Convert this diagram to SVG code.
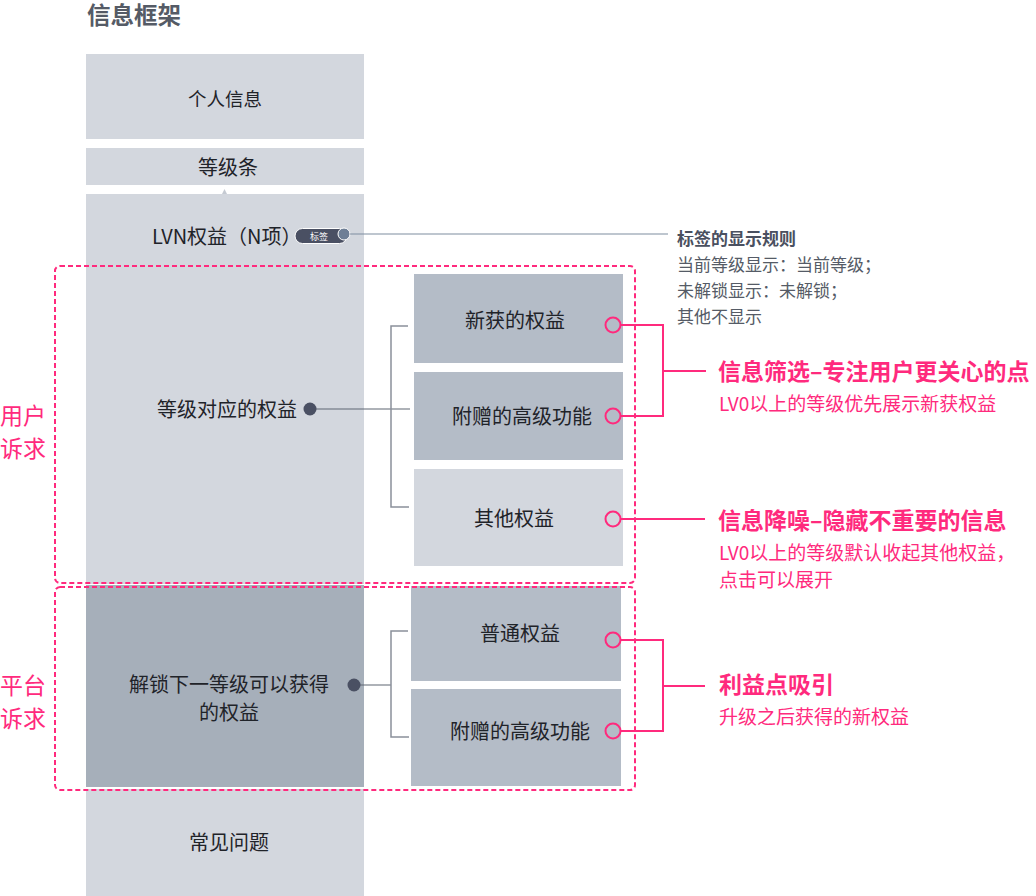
<svg xmlns="http://www.w3.org/2000/svg" width="1036" height="896" viewBox="0 0 1036 896">
<style>
text{font-family:"Noto Sans CJK SC","Noto Sans",sans-serif;}
.t{font-size:20px;fill:#1f2329;text-anchor:middle;}
.light{fill:#d3d7de;}
.mid{fill:#b4bcc7;}
.dark{fill:#a6afba;}
.pk{fill:none;stroke:#ff2a7d;stroke-width:2;}
.pkc{fill:none;stroke:#ff2a7d;stroke-width:2;}
.dash{fill:none;stroke:#ff2a7d;stroke-width:2;stroke-dasharray:5 3;}
.br{fill:none;stroke:#8a909a;stroke-width:1.5;}
.ln{stroke:#5f6672;stroke-width:1.2;fill:none;}
.h{font-size:23px;font-weight:bold;fill:#ff2a7d;}
.s{font-size:19px;fill:#ff2a7d;}
.side{font-size:23px;fill:#ff2a7d;}
.g{font-size:17px;fill:#555b66;}
</style>
<rect width="1036" height="896" fill="#ffffff"/>
<text x="87" y="24" style="font-size:23.5px;font-weight:bold;fill:#555b66;">信息框架</text>

<g id="n-personal"><rect class="light" x="86" y="54" width="278" height="85"/><text class="t" x="225" y="106" style="font-size:18.5px">个人信息</text></g>
<g id="n-levelbar"><rect class="light" x="86" y="148" width="278" height="37"/><text class="t" x="228" y="175">等级条</text><path d="M222 194 L224.5 189 L227 194 Z" fill="#c5cad2"/></g>
<g id="n-lvn"><rect class="light" x="86" y="194" width="278" height="390"/>
<text x="152" y="244" style="font-size:20px;fill:#1f2329;">LVN权益（N项）</text>
<rect x="295" y="228.5" width="52" height="15" rx="7.5" fill="#4a5063" stroke="#ffffff" stroke-width="1"/>
<text x="319" y="239.5" style="font-size:9px;fill:#ffffff;text-anchor:middle;">标签</text>
<circle cx="344" cy="234" r="6" fill="#6e7f96" stroke="#ffffff" stroke-width="1"/>
<text class="t" x="227" y="417">等级对应的权益</text>
</g>
<g id="n-unlock"><rect class="dark" x="86" y="585" width="278" height="202"/><text class="t" x="229" y="692">解锁下一等级可以获得</text><text class="t" x="229" y="720">的权益</text></g>
<g id="n-faq"><rect class="light" x="86" y="789" width="278" height="107"/><text class="t" x="229" y="850">常见问题</text></g>

<g id="n-new"><rect class="mid" x="414" y="274" width="209" height="89"/><text class="t" x="515" y="328">新获的权益</text></g>
<g id="n-gift1"><rect class="mid" x="414" y="372" width="209" height="88"/><text class="t" x="522" y="424">附赠的高级功能</text></g>
<g id="n-other"><rect class="light" x="414" y="469" width="209" height="97"/><text class="t" x="514" y="526">其他权益</text></g>
<g id="n-normal"><rect class="mid" x="411" y="586" width="210" height="95"/><text class="t" x="520" y="641">普通权益</text></g>
<g id="n-gift2"><rect class="mid" x="411" y="689" width="210" height="97"/><text class="t" x="520" y="739">附赠的高级功能</text></g>

<g id="regions">
<rect class="dash" x="55" y="266" width="580" height="317" rx="5"/>
<rect class="dash" x="55" y="587" width="580" height="203" rx="5"/>
<text class="side" x="0" y="424">用户</text><text class="side" x="0" y="457">诉求</text>
<text class="side" x="0" y="694">平台</text><text class="side" x="0" y="727">诉求</text>
</g>

<g id="connectors">
<line x1="350" y1="234" x2="668" y2="234" stroke="#7f8ea0" stroke-width="1.2"/>
<line class="ln" x1="310" y1="409" x2="410" y2="409"/>
<circle cx="310" cy="409" r="6.5" fill="#4a5063"/>
<path class="br" d="M408 326 H391 V507 H409"/>
<line class="ln" x1="354" y1="685" x2="391" y2="685"/>
<circle cx="354" cy="685" r="6.5" fill="#4a5063"/>
<path class="br" d="M408 631 H391 V737 H409"/>

<circle class="pkc" cx="613" cy="325" r="7.5"/>
<circle class="pkc" cx="613" cy="416" r="7.5"/>
<circle class="pkc" cx="613" cy="519" r="7.5"/>
<circle class="pkc" cx="613" cy="640" r="7.5"/>
<circle class="pkc" cx="613" cy="731" r="7.5"/>
<path class="pk" d="M620.5 325 H663 V416 H620.5 M663 371 H706"/>
<path class="pk" d="M620.5 519 H705"/>
<path class="pk" d="M620.5 640 H663 V731 H620.5 M663 686 H705"/>
</g>

<g id="notes">
<text x="677" y="245" style="font-size:17px;font-weight:bold;fill:#4a5060;">标签的显示规则</text>
<text class="g" x="677" y="271">当前等级显示：当前等级；</text>
<text class="g" x="677" y="297">未解锁显示：未解锁；</text>
<text class="g" x="677" y="323">其他不显示</text>
<text class="h" x="718" y="380">信息筛选–专注用户更关心的点</text>
<text class="s" x="719" y="411">LV0以上的等级优先展示新获权益</text>
<text class="h" x="718" y="529">信息降噪–隐藏不重要的信息</text>
<text class="s" x="719" y="560">LV0以上的等级默认收起其他权益，</text>
<text class="s" x="719" y="587">点击可以展开</text>
<text class="h" x="719" y="693">利益点吸引</text>
<text class="s" x="719" y="724">升级之后获得的新权益</text>
</g>
</svg>
